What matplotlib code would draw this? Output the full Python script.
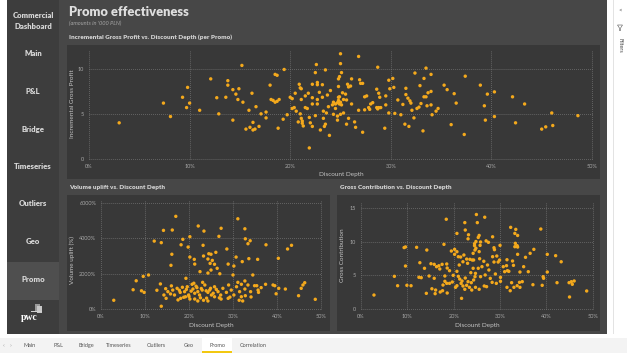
import matplotlib
matplotlib.use("Agg")
import matplotlib.pyplot as plt
from matplotlib.patches import Rectangle, Polygon
from matplotlib.ticker import FixedLocator

plt.rcParams['font.family'] = ['Lato', 'DejaVu Sans']

# ---------------- data ----------------
# Incremental Gross Profit vs. Discount Depth (per Promo)   (discount in %)
igp_disc = [3.0, 7.4, 8.1, 9.3, 9.8, 9.7, 10.0, 11.0, 12.1, 12.7, 12.9, 13.6, 13.8, 13.8, 14.3, 14.6, 14.8, 14.9,
            14.3, 15.2, 15.3, 15.6, 15.9, 16.0, 16.3, 16.5, 16.2, 16.3, 16.6, 16.9, 17.1, 17.6, 17.6, 18.0, 18.1,
            18.3, 18.5, 18.7, 18.5, 18.7, 18.8, 18.9, 19.4, 19.3, 19.7, 20.0, 20.2, 20.2, 20.4, 20.5, 20.6, 20.9,
            21.0, 21.1, 21.1, 21.0, 21.1, 21.2, 21.2, 21.3, 21.5, 21.7, 21.9, 22.0, 22.2, 22.2, 22.2, 22.2, 22.5,
            22.6, 22.7, 22.7, 22.7, 22.7, 23.2, 23.2, 23.5, 23.3, 23.6, 23.3, 23.5, 23.4, 23.9, 24.3, 24.5, 24.7,
            24.8, 24.9, 24.3, 24.7, 24.8, 24.8, 24.9, 25.0, 25.0, 25.1, 25.2, 25.5, 24.8, 25.0, 25.1, 25.3, 24.9,
            25.6, 26.1, 25.3, 25.0, 24.7, 25.8, 25.6, 26.4, 26.5, 27.2, 25.7, 25.8, 26.0, 26.1, 26.9, 27.0, 27.2,
            26.8, 26.8, 27.4, 27.6, 27.8, 28.0, 28.2, 28.6, 28.8, 28.9, 28.6, 28.8, 29.0, 28.7, 29.5, 29.5, 27.4,
            27.9, 28.7, 29.4, 29.8, 29.8, 30.2, 29.9, 30.3, 30.4, 30.7, 31.0, 31.2, 31.5, 31.5, 31.7, 31.9, 32.0,
            32.1, 32.3, 31.4, 31.8, 32.4, 32.9, 33.3, 33.5, 34.0, 32.6, 32.8, 33.0, 33.2, 33.3, 33.5, 33.7, 34.0,
            33.6, 34.0, 34.1, 34.5, 34.7, 35.3, 35.6, 36.3, 36.5, 36.0, 37.4, 37.3, 38.9, 39.6, 40.3, 39.3, 39.4,
            40.3, 42.1, 43.3, 42.4, 46.0, 48.6, 45.0, 45.4, 46.1, 24.2, 24.5, 23.8, 24.0, 23.7, 22.9, 21.8, 21.5,
            22.5, 21.9, 20.8, 23.0]
igp_value = [4.0, 6.2, 4.7, 6.85, 7.95, 5.7, 6.2, 5.4, 8.9, 6.8, 5.0, 6.85, 8.7, 8.2, 7.7, 7.2, 6.6, 7.8,
             4.3, 10.4, 6.3, 3.3, 5.4, 3.5, 3.2, 3.3, 7.3, 4.05, 5.8, 3.6, 5.0, 5.2, 4.55, 8.2, 6.6,
             6.5, 6.3, 6.4, 9.4, 9.3, 3.4, 6.6, 9.95, 4.4, 4.9, 6.85, 6.7, 5.6, 5.7, 7.3, 5.3, 8.3,
             7.9, 7.8, 6.6, 5.0, 4.5, 4.2, 3.95, 3.65, 5.7, 5.6, 1.2, 4.0, 6.8, 8.3, 3.6, 6.1, 9.6,
             10.5, 8.5, 8.25, 6.6, 6.1, 8.25, 6.85, 9.9, 5.3, 5.1, 4.5, 3.85, 3.6, 2.6, 6.3, 6.1, 6.25,
             6.85, 6.9, 4.95, 4.3, 8.9, 8.05, 9.15, 11.7, 10.6, 9.6, 7.35, 7.2, 6.5, 6.3, 6.0, 6.6, 6.1,
             6.55, 6.1, 5.1, 4.95, 4.75, 4.5, 3.85, 4.1, 3.5, 2.95, 8.3, 8.0, 8.1, 8.9, 8.8, 8.4, 8.4,
             11.4, 5.4, 6.9, 7.0, 5.7, 6.1, 6.25, 7.75, 7.3, 6.85, 5.7, 5.7, 5.7, 5.55, 6.0, 7.0, 5.45,
             5.5, 10.2, 3.4, 5.1, 8.75, 8.95, 7.8, 7.95, 5.05, 6.55, 4.9, 6.05, 7.85, 7.15, 6.75, 6.45, 6.2,
             5.4, 4.55, 3.85, 3.6, 9.55, 8.15, 8.95, 10.1, 9.4, 5.6, 5.75, 6.15, 3.1, 6.9, 6.9, 7.35, 7.5,
             5.9, 6.0, 4.9, 5.3, 5.6, 8.2, 7.7, 7.25, 6.2, 3.8, 9.2, 2.7, 8.2, 7.2, 7.45, 5.9, 4.3,
             4.7, 6.9, 6.1, 4.0, 5.1, 4.8, 3.3, 3.55, 3.7, 6.0, 5.6, 5.8, 7.6, 7.1, 7.4, 7.3, 7.0,
             4.8, 4.6, 4.1, 3.2]

# Volume uplift vs. Discount Depth
vu_disc = [2.9, 7.3, 8.0, 9.6, 10.8, 9.2, 9.8, 12.1, 13.7, 14.2, 16.2, 17.0, 12.7, 13.7, 13.5, 16.1, 15.9,
           18.6, 20.2, 18.2, 19.8, 22.1, 23.4, 23.2, 20.2, 21.2, 21.3, 23.3, 24.5, 24.3, 24.8, 19.3, 22.5,
           27.3, 26.8, 28.6, 31.1, 32.7, 32.8, 33.9, 33.4, 37.5, 42.4, 43.3, 30.7, 32.1, 33.6, 35.6, 40.3,
           28.9, 30.2, 26.1, 25.0, 25.3, 25.8, 26.4, 27.0, 25.0, 24.3, 34.5, 46.3, 45.9, 45.5, 44.9, 48.7,
           41.9, 39.1, 39.5, 40.4, 39.8, 37.4, 36.4, 35.4, 35.8, 34.1, 32.8, 31.4, 32.2,
           14.7, 15.2, 15.8, 16.3, 16.7, 17.3, 18.0, 18.5, 19.0, 19.6, 19.9, 20.7, 20.9, 21.3, 21.8, 22.0,
           22.4, 23.0, 23.6, 24.3, 24.9, 25.1, 14.3, 14.8, 17.5, 19.2, 21.3, 23.3, 24.3, 18.1, 20.2, 22.0,
           24.7, 25.5, 25.8, 26.6, 27.2, 27.7, 28.5, 29.0, 29.6, 30.2, 30.8, 31.5, 31.9, 32.7, 33.4, 34.0,
           28.9, 27.3, 25.8, 31.9, 30.0, 32.7, 31.1, 34.9, 35.7,
           17.8, 19.4, 20.5, 21.6, 22.8, 23.9, 26.2, 16.0, 18.8, 20.0, 22.6, 24.0, 26.9, 29.3, 21.1, 23.1]
vu_value = [480, 1080, 1590, 1840, 1920, 1020, 930, 3850, 3760, 4460, 4480, 5260, 1050, 140, 1410, 3100, 2470,
            3950, 4100, 3640, 3510, 4710, 4420, 3610, 2940, 2810, 2540, 3000, 3130, 2830, 2580, 1730, 2110,
            4580, 4120, 3400, 5120, 4550, 3980, 3870, 3700, 3640, 3400, 3610, 2940, 2680, 2850, 2810, 2870,
            2540, 2430, 3210, 3100, 2750, 2530, 2300, 1990, 2200, 2030, 1920, 1480, 1350, 1160, 740, 535,
            1120, 1350, 1310, 1160, 850, 1390, 1200, 1310, 930, 670, 740, 480, 440,
            1140, 970, 840, 1060, 780, 1160, 930, 1220, 970, 1250, 780, 1390, 1120, 880, 1200, 970,
            780, 1060, 1350, 930, 1160, 780, 780, 590, 500, 680, 550, 480, 440, 590, 550, 440,
            1060, 880, 1250, 970, 780, 1160, 930, 1350, 1060, 780, 1250, 970, 1390, 1120, 1350, 970,
            590, 550, 680, 680, 1920, 1580, 1500, 1310, 1060,
            1050, 1100, 1000, 1280, 1150, 1020, 1100, 1300, 650, 700, 620, 600, 620, 660, 1450, 1500]

# Gross Contribution vs. Discount Depth
gc_disc = [2.8, 7.2, 7.9, 9.9, 10.8, 9.3, 9.6, 9.6, 12.0, 14.2, 12.7, 13.7, 12.5, 13.0, 14.7, 15.8, 14.1, 16.1,
           16.0, 17.1, 17.6, 18.6, 15.1, 15.8, 16.3, 17.0, 16.8, 17.5, 18.5, 18.6, 18.4, 17.9, 15.3, 18.1, 18.5,
           17.7, 20.7, 22.4, 23.2, 23.1, 22.5, 19.5, 20.2, 20.7, 20.2, 21.0, 21.5, 22.2, 22.8, 23.5, 24.5, 24.6,
           21.7, 24.9, 26.7, 25.1, 32.3, 33.4, 33.2, 33.8, 38.8, 33.3, 33.7, 33.2, 33.8, 25.5, 25.3, 24.8, 25.8,
           24.5, 25.7, 24.8, 25.5, 27.0, 27.5, 28.4, 28.7, 28.8, 30.0, 24.2, 37.3, 36.5, 35.5, 40.2, 42.0, 43.2,
           40.2, 39.3, 39.4, 42.3, 37.1, 39.1, 44.9, 45.4, 46.0, 45.6, 48.7, 45.0, 32.2, 33.0, 33.7, 34.3,
           19.1, 18.1, 19.9, 20.7, 21.0, 21.3, 21.8, 22.5, 23.1, 23.8, 22.0, 22.4, 23.4, 23.9, 20.4, 20.7, 21.6,
           22.8, 19.1, 19.7, 21.2, 22.0, 23.0, 24.0, 24.2, 23.7, 24.6, 25.6, 26.5, 24.3, 27.3, 28.4, 29.3, 29.9,
           29.6, 28.7, 31.5, 32.7, 33.8, 32.9, 31.4, 31.0, 30.7, 31.6, 31.9, 35.1, 36.1, 34.3, 24.7, 25.5, 26.6,
           27.1, 28.3, 29.2, 30.1, 31.5, 32.5, 34.2, 34.8, 24.7, 25.8, 26.8, 27.9, 29.0, 30.1, 24.3, 25.3, 26.1,
           27.6]
gc_value = [2.07, 4.84, 3.45, 3.51, 3.45, 9.1, 9.2, 6.37, 9.14, 8.74, 6.86, 6.03, 4.70, 4.64, 4.89, 4.55, 2.32, 2.81,
            2.27, 2.52, 2.71, 2.37, 6.71, 6.62, 6.27, 5.93, 6.41, 6.62, 6.67, 6.07, 13.3, 9.58, 3.0, 4.1, 3.8,
            3.55, 11.2, 12.8, 11.0, 10.4, 11.7, 8.59, 8.84, 8.49, 8.1, 7.75, 7.7, 8.0, 7.4, 7.36, 9.67, 8.74,
            1.58, 14.0, 13.6, 12.8, 12.1, 11.8, 11.2, 10.9, 11.85, 9.73, 9.38, 9.23, 9.18, 10.9, 10.6, 10.0, 9.93,
            9.38, 9.43, 9.0, 8.5, 10.1, 9.88, 10.7, 9.08, 8.79, 9.43, 8.25, 8.84, 8.25, 7.66, 8.1, 7.9, 7.0,
            5.48, 4.79, 4.55, 3.9, 3.6, 3.51, 3.9, 4.05, 4.15, 3.66, 2.67, 1.78, 2.71, 3.21, 3.45, 3.21,
            5.68, 4.89, 4.99, 5.58, 4.84, 4.44, 4.15, 4.59, 4.05, 3.9, 3.41, 2.92, 3.21, 2.81, 3.21, 3.45, 3.8,
            3.51, 3.8, 4.0, 6.52, 7.0, 6.77, 7.26, 6.03, 5.38, 4.79, 7.45, 7.07, 7.26, 6.52, 7.75, 7.85, 7.26,
            6.96, 6.96, 7.3, 7.11, 8.1, 6.47, 6.42, 5.53, 6.27, 5.68, 5.58, 6.27, 5.53, 5.48, 3.21, 2.92, 3.41,
            3.31, 3.95, 3.8, 4.1, 3.21, 3.9, 3.95, 4.05, 5.28, 4.79, 5.04, 4.54, 5.19, 4.69, 4.3, 6.03, 6.27,
            5.78]

x_ticks = [0, 10, 20, 30, 40, 50]
igp_ticks = [0, 5, 10]
vu_ticks = [0, 2000, 4000, 6000]
gc_ticks = [0, 5, 10, 15]

nav_items = ["Main", "P&L", "Bridge", "Timeseries", "Outliers", "Geo", "Promo"]
tab_names = ["Main", "P&L", "Bridge", "Timeseries", "Outliers", "Geo", "Promo", "Correlation"]

# ---------------- layout helpers ----------------
W, H = 627, 353
fig = plt.figure(figsize=(W / 100, H / 100), dpi=100)
fig.patch.set_facecolor("#ffffff")


def rect(x0, y0, x1, y1, color, z=-10):
    fig.add_artist(Rectangle((x0 / W, 1 - y1 / H), (x1 - x0) / W, (y1 - y0) / H,
                             transform=fig.transFigure, facecolor=color,
                             edgecolor="none", lw=0, zorder=z))


def txt(x, y, s, **kw):
    kw.setdefault("va", "center")
    return fig.text(x / W, 1 - y / H, s, **kw)


def add_axes(l, t, r, b):
    return fig.add_axes([l / W, 1 - b / H, (r - l) / W, (b - t) / H])


CANVAS = "#474747"
NAV = "#3d3d3d"
PANEL = "#383838"
DOT = "#F4A91C"
GRID = "#7c7c7c"
TICK = "#a8a8a8"
LABEL = "#c4c4c4"
BOLD = "heavy"

# backgrounds
rect(7, 0, 607, 334, CANVAS)
rect(7, 0, 59, 334, NAV)
rect(7, 262, 59, 300, "#4f4f4f")
rect(67, 45, 600, 179, PANEL)
rect(67, 195, 330, 331, PANEL)
rect(337, 195, 600, 331, PANEL)

# page titles
txt(69, 12, "Promo effectiveness", fontsize=9.3, fontweight=BOLD, color="#dedede")
txt(69, 23.5, "(amounts in '000 PLN)", fontsize=4.1, style="italic", color="#a5a5a5")

txt(69, 37.5, "Incremental Gross Profit vs. Discount Depth (per Promo)", fontsize=4.6, fontweight=BOLD, color="#d0d0d0")
txt(69, 187.5, "Volume uplift vs. Discount Depth", fontsize=4.6, fontweight=BOLD, color="#d0d0d0")
txt(340, 187.5, "Gross Contribution vs. Discount Depth", fontsize=4.6, fontweight=BOLD, color="#d0d0d0")

# nav
txt(33, 16, "Commercial", fontsize=5.5, fontweight=BOLD, color="#d6d6d6", ha="center")
txt(33, 26.5, "Dashboard", fontsize=5.5, fontweight=BOLD, color="#d6d6d6", ha="center")
nav_y = [53.5, 91.5, 129.5, 166.5, 204, 242, 280]
for name, yy in zip(nav_items, nav_y):
    txt(33, yy, name, fontsize=5.6, fontweight=BOLD, color="#d6d6d6", ha="center")
# pwc logo
txt(29, 318, "pwc", fontsize=7, fontweight="bold", color="#ffffff", ha="center",
    family=["Liberation Serif", "DejaVu Serif"])
rect(35, 304, 40, 311, "#9a9a9a", z=-5)
rect(37, 306, 42, 313, "#c8c8c8", z=-4)
rect(31, 311, 42, 312.2, "#d0d0d0", z=-4)


def style_axes(ax, ylim, yticks, yfmt):
    ax.set_facecolor("none")
    ax.set_xlim(0, 50)
    ax.set_ylim(*ylim)
    ax.xaxis.set_major_locator(FixedLocator(x_ticks))
    ax.yaxis.set_major_locator(FixedLocator(yticks))
    ax.set_xticklabels([f"{v}%" for v in x_ticks])
    ax.set_yticklabels([yfmt(v) for v in yticks])
    for s in ax.spines.values():
        s.set_visible(False)
    ax.tick_params(length=0, labelsize=4.0, colors=TICK, pad=3.5)
    ax.grid(True, color=GRID, linestyle=(0, (1, 1.6)), linewidth=0.55)
    for gl in ax.get_xgridlines() + ax.get_ygridlines():
        gl.set_clip_on(False)
    ax.set_axisbelow(True)


# top chart
ax1 = add_axes(89, 50, 592, 158.7)
ax1.scatter(igp_disc, igp_value, s=6, color=DOT, edgecolors="none", zorder=3)
style_axes(ax1, (0, 12.12), igp_ticks, lambda v: f"{v}")
txt(341, 174, "Discount Depth", fontsize=4.6, color=LABEL, ha="center")
txt(72, 104, "Incremental Gross Profit", fontsize=4.6, color=LABEL, ha="center", rotation=90)

# bottom-left
ax2 = add_axes(101, 200, 321, 308.7)
ax2.scatter(vu_disc, vu_value, s=6, color=DOT, edgecolors="none", zorder=3)
style_axes(ax2, (0, 6190), vu_ticks, lambda v: f"{v}%")
txt(211, 325, "Discount Depth", fontsize=4.6, color=LABEL, ha="center")
txt(72, 260, "Volume uplift (%)", fontsize=4.6, color=LABEL, ha="center", rotation=90)

# bottom-right
ax3 = add_axes(361, 201.7, 592.7, 309)
ax3.scatter(gc_disc, gc_value, s=6, color=DOT, edgecolors="none", zorder=3)
style_axes(ax3, (0, 15.9), gc_ticks, lambda v: f"{v}")
txt(477, 325, "Discount Depth", fontsize=4.6, color=LABEL, ha="center")
txt(343, 255, "Gross Contribution", fontsize=4.6, color=LABEL, ha="center", rotation=90)

# right filter pane
rect(613, 0, 613.6, 334, "#e3e3e3", z=-9)
txt(620, 10, "<", fontsize=4.5, color="#555555", ha="center")
fig.add_artist(Polygon([(617.5 / W, 1 - 25 / H), (622.5 / W, 1 - 25 / H), (620.6 / W, 1 - 28 / H),
                        (620.6 / W, 1 - 30.5 / H), (619.4 / W, 1 - 30.5 / H), (619.4 / W, 1 - 28 / H)],
                       closed=True, transform=fig.transFigure, facecolor="none",
                       edgecolor="#555555", lw=0.4, zorder=5))
txt(620, 45, "Filters", fontsize=4.0, color="#444444", ha="center", rotation=270)

# bottom tab bar
rect(0, 338, 627, 353, "#f3f3f3", z=-10)
txt(3.5, 345.5, "‹", fontsize=4.5, color="#999999", ha="center")
txt(10.5, 345.5, "›", fontsize=4.5, color="#999999", ha="center")
tab_edges = [15, 45, 72, 100, 137, 175, 202, 232, 275]
for i, name in enumerate(tab_names):
    x0, x1 = tab_edges[i], tab_edges[i + 1]
    if name == "Promo":
        rect(x0, 338, x1, 353, "#ffffff", z=-8)
        rect(x0, 351.3, x1, 353, "#F2C811", z=-7)
    rect(x1 - 0.3, 338, x1 + 0.3, 353, "#dedede", z=-7)
    txt((x0 + x1) / 2, 345.3, name, fontsize=4.0, color="#555555", ha="center")

fig.savefig("out.png", dpi=100, facecolor=fig.get_facecolor())
